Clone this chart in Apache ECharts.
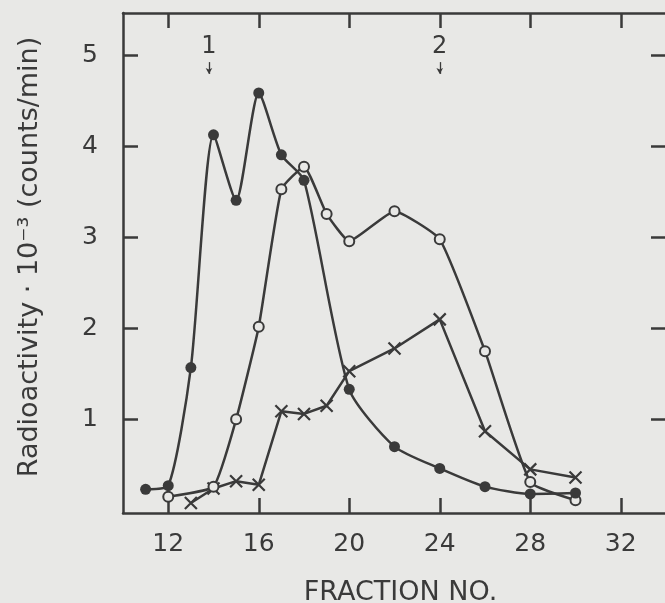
<!DOCTYPE html>
<html>
<head>
<meta charset="utf-8">
<style>
  html, body { margin: 0; padding: 0; background: #e8e8e6; }
  #chart { width: 665px; height: 603px; }
</style>
<script src="https://cdn.jsdelivr.net/npm/echarts@6/dist/echarts.min.js"></script>
</head>
<body>
<div id="chart"></div>
<script>
// ---- data ----
const filledX = [11, 12, 13, 14, 15, 16, 17, 18, 20, 22, 24, 26, 28, 30];
const filledY = [0.23, 0.27, 1.57, 4.13, 3.41, 4.59, 3.91, 3.63, 1.33, 0.70, 0.46, 0.26, 0.18, 0.19];

const openX = [12, 14, 15, 16, 17, 18, 19, 20, 22, 24, 26, 28, 30];
const openY = [0.15, 0.26, 1.00, 2.02, 3.53, 3.78, 3.26, 2.96, 3.29, 2.98, 1.75, 0.31, 0.11];

const crossX = [13, 14, 15, 16, 17, 18, 19, 20, 22, 24, 26, 28, 30];
const crossY = [0.08, 0.24, 0.32, 0.28, 1.09, 1.06, 1.15, 1.53, 1.78, 2.10, 0.87, 0.45, 0.36];

const xTicks = [12, 16, 20, 24, 28, 32];
const yTicks = [1, 2, 3, 4, 5];

const arrowX = [13.8, 24];
const arrowLabels = ['1', '2'];

// ---- build chart ----
const ink = '#3a3a3a';
const bg = '#e8e8e6';
const font = 'DejaVu Sans';

const pairs = (xs, ys) => xs.map((x, i) => [x, ys[i]]);

const arrowData = arrowX.map((x, i) => [
  { coord: [x, 4.93], label: { formatter: arrowLabels[i] } },
  { coord: [x, 4.80] }
]);

const chart = echarts.init(document.getElementById('chart'), null, { renderer: 'canvas' });

const baseX = {
  type: 'value', min: 10, max: 34,
  splitLine: { show: false },
  axisLine: { show: true, onZero: false, lineStyle: { color: ink, width: 2.5 } },
  axisTick: { show: true, inside: true, length: 15, customValues: xTicks, lineStyle: { color: ink, width: 2.5 } }
};
const baseY = {
  type: 'value', min: -0.03, max: 5.47,
  splitLine: { show: false },
  axisLine: { show: true, onZero: false, lineStyle: { color: ink, width: 2.5 } },
  axisTick: { show: true, inside: true, length: 15, customValues: yTicks, lineStyle: { color: ink, width: 2.5 } }
};

chart.setOption({
  backgroundColor: bg,
  animation: false,
  grid: { left: 123, top: 13, width: 543, height: 500, containLabel: false, outerBoundsMode: 'none' },
  xAxis: [
    Object.assign({}, baseX, {
      position: 'bottom',
      axisLabel: { show: true, customValues: xTicks, margin: 19, color: ink, fontFamily: font, fontSize: 25 },
      name: 'FRACTION NO.',
      nameLocation: 'middle',
      nameGap: 66,
      nameTextStyle: { color: ink, fontFamily: font, fontSize: 27, padding: [0, 0, 0, 12] }
    }),
    Object.assign({}, baseX, {
      position: 'top',
      axisLabel: { show: false }
    })
  ],
  yAxis: [
    Object.assign({}, baseY, {
      position: 'left',
      axisLabel: { show: true, customValues: yTicks, margin: 25, color: ink, fontFamily: font, fontSize: 25 },
      name: 'Radioactivity · 10⁻³ (counts/min)',
      nameLocation: 'middle',
      nameGap: 80,
      nameTextStyle: { color: ink, fontFamily: font, fontSize: 27, padding: [0, 0, 0, 12] }
    }),
    Object.assign({}, baseY, {
      position: 'right',
      axisLabel: { show: false }
    })
  ],
  series: [
    {
      type: 'line', name: 'crosses',
      data: pairs(crossX, crossY),
      smooth: false,
      symbol: 'path://M0,0L10,10M10,0L0,10',
      symbolSize: 12,
      lineStyle: { color: ink, width: 2.5 },
      itemStyle: { color: 'rgba(0,0,0,0)', borderColor: ink, borderWidth: 2.2 },
      z: 2
    },
    {
      type: 'line', name: 'open',
      data: pairs(openX, openY),
      smooth: 0.14,
      symbol: 'circle',
      symbolSize: 10,
      showAllSymbol: true,
      lineStyle: { color: ink, width: 2.5 },
      itemStyle: { color: bg, borderColor: ink, borderWidth: 2 },
      z: 3
    },
    {
      type: 'line', name: 'filled',
      data: pairs(filledX, filledY),
      smooth: 0.22,
      symbol: 'circle',
      symbolSize: 11,
      showAllSymbol: true,
      lineStyle: { color: ink, width: 2.5 },
      itemStyle: { color: ink, borderColor: ink, borderWidth: 0 },
      z: 4,
      markLine: {
        silent: true,
        symbol: ['none', 'arrow'],
        symbolSize: [5, 6],
        lineStyle: { color: ink, width: 1.3, type: 'solid' },
        label: { show: true, position: 'start', distance: 3, color: ink, fontFamily: font, fontSize: 24 },
        data: arrowData
      }
    }
  ]
});
</script>
</body>
</html>
